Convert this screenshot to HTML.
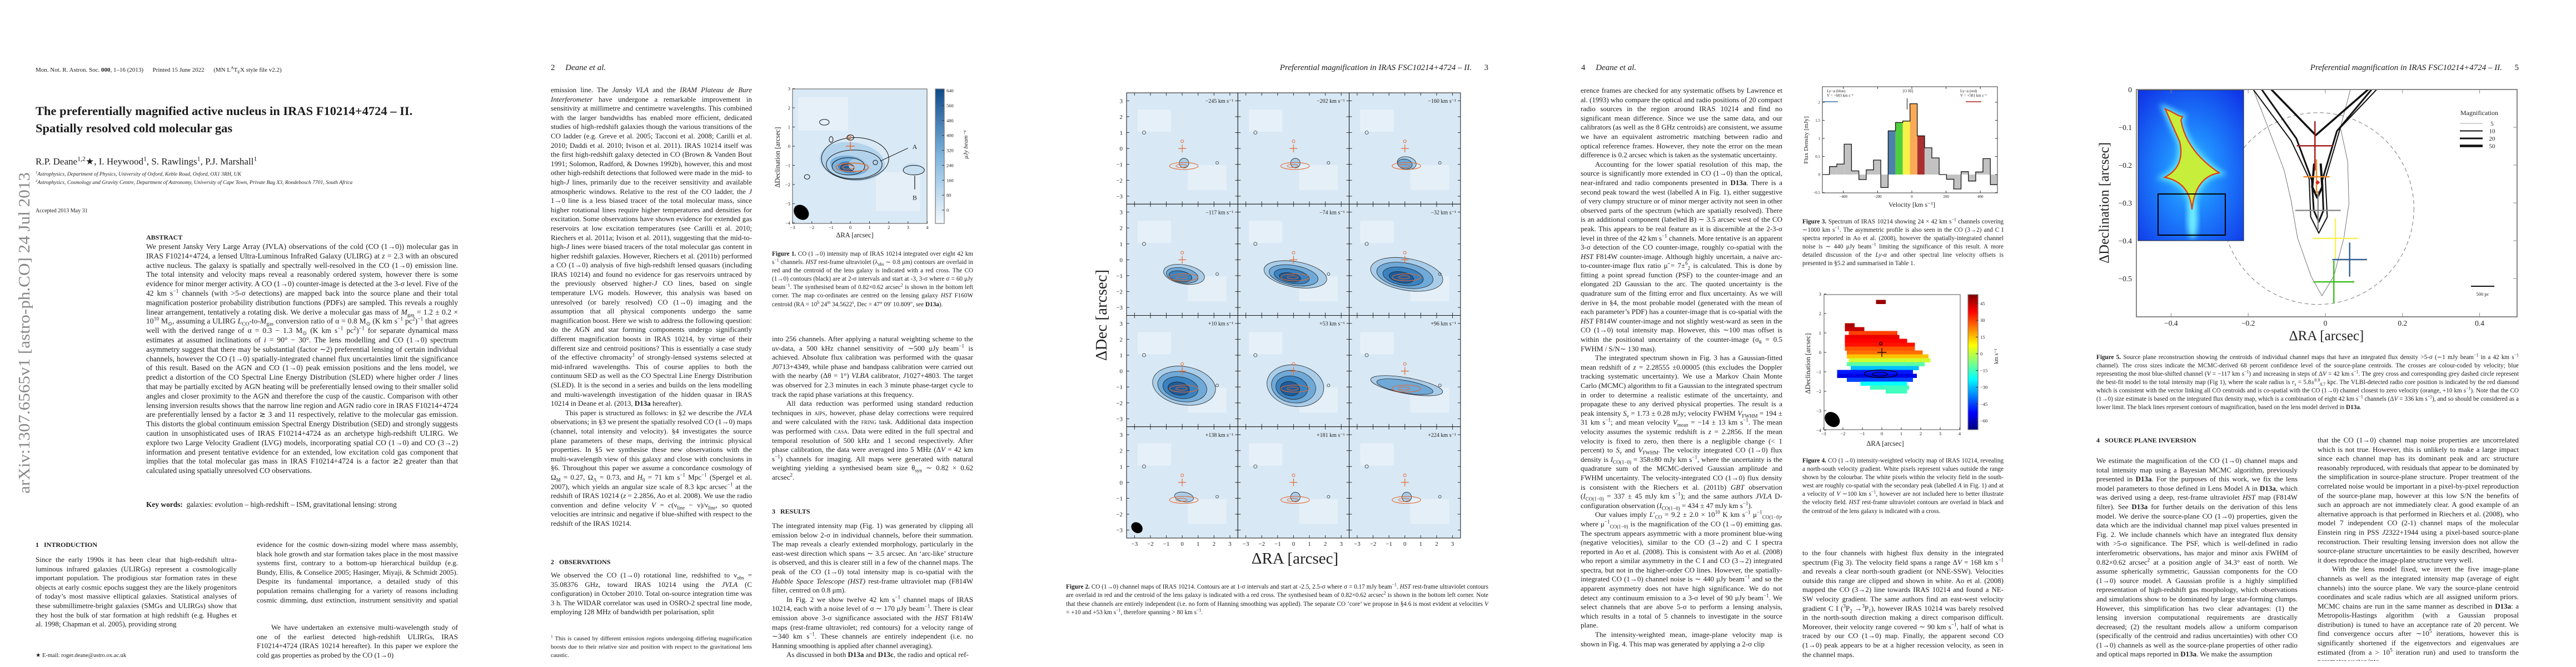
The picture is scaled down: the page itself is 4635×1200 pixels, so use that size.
<!DOCTYPE html>
<html><head><meta charset="utf-8"><title>Preferentially magnified AGN in IRAS F10214+4724 II</title>
<style>
html,body{margin:0;padding:0;background:#fff}
body{width:4635px;height:1200px;position:relative;overflow:hidden}
.pg{position:absolute;top:0;width:927px;height:1200px;overflow:hidden;background:#fff}
.t{position:absolute;font-family:"Liberation Serif",serif;font-size:13px;line-height:16.6px;text-align:justify;color:#1c1c1c;overflow:hidden}
.t p{margin:0}
.ind{text-indent:2em}
.cap{font-size:11.2px;line-height:15.1px}
.h{font-weight:bold}
sup,sub{line-height:0;font-size:70%}
svg{position:absolute;left:0;top:0;overflow:visible}
svg text{font-family:"Liberation Serif",serif}
</style></head>
<body>
<!-- PAGE 1 -->
<div class="pg" style="left:0">
<div class="t" style="left:64px;top:118px;width:600px;font-size:11px;text-align:left;white-space:pre">Mon. Not. R. Astron. Soc. <b>000</b>, 1–16 (2013)      Printed 15 June 2022      (MN L<sup>A</sup>T<sub>E</sub>X style file v2.2)</div>
<div class="t h" style="left:64px;top:184px;width:800px;font-size:22.5px;line-height:31px;text-align:left">The preferentially magnified active nucleus in IRAS F10214+4724 – II.<br>Spatially resolved cold molecular gas</div>
<div class="t" style="left:64px;top:280px;width:700px;font-size:17px;line-height:22px;text-align:left">R.P. Deane<sup>1,2</sup>★, I. Heywood<sup>1</sup>, S. Rawlings<sup>1</sup>, P.J. Marshall<sup>1</sup></div>
<div class="t" style="left:64px;top:306px;width:780px;font-size:9.6px;line-height:15px;text-align:left;font-style:italic"><sup>1</sup>Astrophysics, Department of Physics, University of Oxford, Keble Road, Oxford, OX1 3RH, UK<br><sup>2</sup>Astrophysics, Cosmology and Gravity Centre, Department of Astronomy, University of Cape Town, Private Bag X3, Rondebosch 7701, South Africa</div>
<div class="t" style="left:64px;top:372px;width:300px;font-size:10px;text-align:left">Accepted 2013 May 31</div>
<div class="t h" style="left:263px;top:419px;width:200px;font-size:12px">ABSTRACT</div>
<div class="t" style="left:263px;top:436px;width:561px;height:452px;font-size:13.6px;line-height:16.8px">We present Jansky Very Large Array (JVLA) observations of the cold (CO (1→0)) molecular gas in IRAS F10214+4724, a lensed Ultra-Luminous InfraRed Galaxy (ULIRG) at <i>z</i> = 2.3 with an obscured active nucleus. The galaxy is spatially and spectrally well-resolved in the CO (1→0) emission line. The total intensity and velocity maps reveal a reasonably ordered system, however there is some evidence for minor merger activity. A CO (1→0) counter-image is detected at the 3-σ level. Five of the 42 km s<sup>−1</sup> channels (with &gt;5-σ detections) are mapped back into the source plane and their total magnification posterior probability distribution functions (PDFs) are sampled. This reveals a roughly linear arrangement, tentatively a rotating disk. We derive a molecular gas mass of <i>M</i><sub>gas</sub> = 1.2 ± 0.2 × 10<sup>10</sup> M<sub>⊙</sub>, assuming a ULIRG <i>L</i><sub>CO</sub>-to-<i>M</i><sub>gas</sub> conversion ratio of α = 0.8 M<sub>⊙</sub> (K km s<sup>−1</sup> pc<sup>2</sup>)<sup>−1</sup> that agrees well with the derived range of α = 0.3 − 1.3 M<sub>⊙</sub> (K km s<sup>−1</sup> pc<sup>2</sup>)<sup>−1</sup> for separate dynamical mass estimates at assumed inclinations of <i>i</i> = 90° − 30°. The lens modelling and CO (1→0) spectrum asymmetry suggest that there may be substantial (factor ∼2) preferential lensing of certain individual channels, however the CO (1→0) spatially-integrated channel flux uncertainties limit the significance of this result. Based on the AGN and CO (1→0) peak emission positions and the lens model, we predict a distortion of the CO Spectral Line Energy Distribution (SLED) where higher order <i>J</i> lines that may be partially excited by AGN heating will be preferentially lensed owing to their smaller solid angles and closer proximity to the AGN and therefore the cusp of the caustic. Comparison with other lensing inversion results shows that the narrow line region and AGN radio core in IRAS F10214+4724 are preferentially lensed by a factor ≳ 3 and 11 respectively, relative to the molecular gas emission. This distorts the global continuum emission Spectral Energy Distribution (SED) and strongly suggests caution in unsophisticated uses of IRAS F10214+4724 as an archetype high-redshift ULIRG. We explore two Large Velocity Gradient (LVG) models, incorporating spatial CO (1→0) and CO (3→2) information and present tentative evidence for an extended, low excitation cold gas component that implies that the total molecular gas mass in IRAS F10214+4724 is a factor ≳2 greater than that calculated using spatially unresolved CO observations.</div>
<div class="t" style="left:263px;top:900px;width:561px;font-size:13.4px;text-align:left"><b>Key words:</b>&nbsp; galaxies: evolution – high-redshift – ISM, gravitational lensing: strong</div>
<div class="t h" style="left:64px;top:972px;width:300px;font-size:12px">1&nbsp;&nbsp;&nbsp;INTRODUCTION</div>
<div class="t" style="left:64px;top:999px;width:362px;height:134px">Since the early 1990s it has been clear that high-redshift ultra-luminous infrared galaxies (ULIRGs) represent a cosmologically important population. The prodigious star formation rates in these objects at early cosmic epochs suggest they are the likely progenitors of today’s most massive elliptical galaxies. Statistical analyses of these submillimetre-bright galaxies (SMGs and ULIRGs) show that they host the bulk of star formation at high redshift (e.g. Hughes et al. 1998; Chapman et al. 2005), providing strong</div>
<div class="t" style="left:462px;top:972px;width:362px;height:118px">evidence for the cosmic down-sizing model where mass assembly, black hole growth and star formation takes place in the most massive systems first, contrary to a bottom-up hierarchical buildup (e.g. Bundy, Ellis, &amp; Conselice 2005; Hasinger, Miyaji, &amp; Schmidt 2005). Despite its fundamental importance, a detailed study of this population remains challenging for a variety of reasons including cosmic dimming, dust extinction, instrument sensitivity and spatial resolution.</div>
<div class="t" style="left:462px;top:1121px;width:362px;height:68px"><p class="ind">We have undertaken an extensive multi-wavelength study of one of the earliest detected high-redshift ULIRGs, IRAS F10214+4724 (IRAS 10214 hereafter). In this paper we explore the cold gas properties as probed by the CO (1→0)</p></div>
<div class="t" style="left:64px;top:1172px;width:362px;font-size:10.5px">★ E-mail: roger.deane@astro.ox.ac.uk</div>
<svg width="927" height="1200"><text x="0" y="0" transform="translate(53,888) rotate(-90)" font-size="29" fill="#888" textLength="578" lengthAdjust="spacingAndGlyphs">arXiv:1307.6565v1  [astro-ph.CO]  24 Jul 2013</text></svg>
</div>

<!-- PAGE 2 -->
<div class="pg" style="left:927px">
<div class="t" style="left:64px;top:112px;width:300px;font-size:15px;line-height:20px;text-align:left">2&nbsp;&nbsp;&nbsp;&nbsp;&nbsp;<i>Deane et al.</i></div>
<div class="t" style="left:64px;top:154px;width:362px;height:814px">emission line. The <i>Jansky VLA</i> and the <i>IRAM Plateau de Bure Interferometer</i> have undergone a remarkable improvement in sensitivity at millimetre and centimetre wavelengths. This combined with the larger bandwidths has enabled more efficient, dedicated studies of high-redshift galaxies though the various transitions of the CO ladder (e.g. Greve et al. 2005; Tacconi et al. 2008; Carilli et al. 2010; Daddi et al. 2010; Ivison et al. 2011). IRAS 10214 itself was the first high-redshift galaxy detected in CO (Brown &amp; Vanden Bout 1991; Solomon, Radford, &amp; Downes 1992b), however, this and most other high-redshift detections that followed were made in the mid- to high-<i>J</i> lines, primarily due to the receiver sensitivity and available atmospheric windows. Relative to the rest of the CO ladder, the <i>J</i> 1→0 line is a less biased tracer of the total molecular mass, since higher rotational lines require higher temperatures and densities for excitation. Some observations have shown evidence for extended gas reservoirs at low excitation temperatures (see Carilli et al. 2010; Riechers et al. 2011a; Ivison et al. 2011), suggesting that the mid-to-high-<i>J</i> lines were biased tracers of the total molecular gas content in higher redshift galaxies. However, Riechers et al. (2011b) performed a CO (1→0) analysis of five high-redshift lensed quasars (including IRAS 10214) and found no evidence for gas reservoirs untraced by the previously observed higher-<i>J</i> CO lines, based on single temperature LVG models. However, this analysis was based on unresolved (or barely resolved) CO (1→0) imaging and the assumption that all physical components undergo the same magnification boost. Here we wish to address the following question: do the AGN and star forming components undergo significantly different magnification boosts in IRAS 10214, by virtue of their different size and centroid positions? This is essentially a case study of the effective chromacity<sup>1</sup> of strongly-lensed systems selected at mid-infrared wavelengths. This of course applies to both the continuum SED as well as the CO Spectral Line Energy Distribution (SLED). It is the second in a series and builds on the lens modelling and multi-wavelength investigation of the hidden quasar in IRAS 10214 in Deane et al. (2013, <b>D13a</b> hereafter).
<p class="ind">This paper is structured as follows: in §2 we describe the <i>JVLA</i> observations; in §3 we present the spatially resolved CO (1→0) maps (channel, total intensity and velocity). §4 investigates the source plane parameters of these maps, deriving the intrinsic physical properties. In §5 we synthesise these new observations with the multi-wavelength view of this galaxy and close with conclusions in §6. Throughout this paper we assume a concordance cosmology of Ω<sub>M</sub> = 0.27, Ω<sub>Λ</sub> = 0.73, and <i>H</i><sub>0</sub> = 71 km s<sup>−1</sup> Mpc<sup>−1</sup> (Spergel et al. 2007), which yields an angular size scale of 8.3 kpc arcsec<sup>−1</sup> at the redshift of IRAS 10214 (<i>z</i> = 2.2856, Ao et al. 2008). We use the radio convention and define velocity <i>V</i> = <i>c</i>(ν<sub>line</sub> − ν)/ν<sub>line</sub>, so quoted velocities are intrinsic and negative if blue-shifted with respect to the redshift of the IRAS 10214.</p></div>
<div class="t h" style="left:64px;top:1003px;width:300px;font-size:12px">2&nbsp;&nbsp;&nbsp;OBSERVATIONS</div>
<div class="t" style="left:64px;top:1027px;width:362px;height:84px">We observed the CO (1→0) rotational line, redshifted to ν<sub>obs</sub> = 35.08376 GHz, toward IRAS 10214 using the <i>JVLA</i> (C configuration) in October 2010. Total on-source integration time was 3 h. The WIDAR correlator was used in OSRO-2 spectral line mode, employing 128 MHz of bandwidth per polarisation, split</div>
<div class="t cap" style="left:64px;top:1142px;width:362px;height:48px;font-size:10.8px"><sup>1</sup> This is caused by different emission regions undergoing differing magnification boosts due to their relative size and position with respect to the gravitational lens caustic.</div>
<div class="t cap" style="left:462px;top:450px;width:362px;height:122px"><b>Figure 1.</b> CO (1→0) intensity map of IRAS 10214 integrated over eight 42 km s<sup>−1</sup> channels. <i>HST</i> rest-frame ultraviolet (λ<sub>obs</sub> ∼ 0.8 μm) contours are overlaid in red and the centroid of the lens galaxy is indicated with a red cross. The CO (1→0) contours (black) are at 2-σ intervals and start at -3, 3-σ where σ = 60 μJy beam<sup>−1</sup>. The synthesised beam of 0.82×0.62 arcsec<sup>2</sup> is shown in the bottom left corner. The map co-ordinates are centred on the lensing galaxy <i>HST</i> F160W centroid (RA = 10<sup>h</sup> 24<sup>m</sup> 34.5622<sup>s</sup>, Dec = 47° 09′ 10.809″, see <b>D13a</b>).</div>
<div class="t" style="left:462px;top:602px;width:362px;height:268px">into 256 channels. After applying a natural weighting scheme to the <i>uv</i>-data, a 500 kHz channel sensitivity of ∼500 μJy beam<sup>−1</sup> is achieved. Absolute flux calibration was performed with the quasar <i>J</i>0713+4349, while phase and bandpass calibration were carried out with the nearby (Δθ = 1°) <i>VLBA</i> calibrator, <i>J</i>1027+4803. The target was observed for 2.3 minutes in each 3 minute phase-target cycle to track the rapid phase variations at this frequency.
<p class="ind">All data reduction was performed using standard reduction techniques in <span style="font-variant:small-caps">aips</span>, however, phase delay corrections were required and were calculated with the <span style="font-variant:small-caps">fring</span> task. Additional data inspection was performed with <span style="font-variant:small-caps">casa</span>. Data were edited in the full spectral and temporal resolution of 500 kHz and 1 second respectively. After phase calibration, the data were averaged into 5 MHz (Δ<i>V</i> = 42 km s<sup>−1</sup>) channels for imaging. All maps were generated with natural weighting yielding a synthesised beam size θ<sub>syn</sub> ∼ 0.82 × 0.62 arcsec<sup>2</sup>.</p></div>
<div class="t h" style="left:462px;top:912px;width:300px;font-size:12px">3&nbsp;&nbsp;&nbsp;RESULTS</div>
<div class="t" style="left:462px;top:938px;width:362px;height:252px">The integrated intensity map (Fig. 1) was generated by clipping all emission below 2-σ in individual channels, before their summation. The map reveals a clearly extended morphology, particularly in the east-west direction which spans ∼ 3.5 arcsec. An ‘arc-like’ structure is observed, and this is clearer still in a few of the channel maps. The peak of the CO (1→0) total intensity map is co-spatial with the <i>Hubble Space Telescope (HST)</i> rest-frame ultraviolet map (F814W filter, centred on 0.8 μm).
<p class="ind">In Fig. 2 we show twelve 42 km s<sup>−1</sup> channel maps of IRAS 10214, each with a noise level of σ ∼ 170 μJy beam<sup>−1</sup>. There is clear emission above 3-σ significance associated with the <i>HST</i> F814W maps (rest-frame ultraviolet; red contours) for a velocity range of ∼340 km s<sup>−1</sup>. These channels are entirely independent (i.e. no Hanning smoothing is applied after channel averaging).</p>
<p class="ind">As discussed in both <b>D13a</b> and <b>D13c</b>, the radio and optical ref-</p></div>
<svg id="fig1" width="927" height="1200"></svg>
</div>

<!-- PAGE 3 -->
<div class="pg" style="left:1854px">
<div class="t" style="left:360px;top:112px;width:464px;font-size:15px;line-height:20px;text-align:right"><i>Preferential magnification in IRAS FSC10214+4724 – II.</i>&nbsp;&nbsp;&nbsp;&nbsp;&nbsp;&nbsp;3</div>
<svg id="fig2" width="927" height="1200"></svg>
<div class="t cap" style="left:64px;top:1049px;width:760px;height:62px;line-height:15.3px"><b>Figure 2.</b> CO (1→0) channel maps of IRAS 10214. Contours are at 1-σ intervals and start at -2.5, 2.5-σ where σ = 0.17 mJy beam<sup>−1</sup>. <i>HST</i> rest-frame ultraviolet contours are overlaid in red and the centroid of the lens galaxy is indicated with a red cross. The synthesised beam of 0.82×0.62 arcsec<sup>2</sup> is shown in the bottom left corner. Note that these channels are entirely independent (i.e. no form of Hanning smoothing was applied). The separate CO ‘core’ we propose in §4.6 is most evident at velocities <i>V</i> = +10 and +53 km s<sup>−1</sup>, therefore spanning &gt; 80 km s<sup>−1</sup>.</div>
</div>

<!-- PAGE 4 -->
<div class="pg" style="left:2781px">
<div class="t" style="left:64px;top:112px;width:300px;font-size:15px;line-height:20px;text-align:left">4&nbsp;&nbsp;&nbsp;&nbsp;&nbsp;<i>Deane et al.</i></div>
<div class="t" style="left:63px;top:155px;width:363px;height:1032px">erence frames are checked for any systematic offsets by Lawrence et al. (1993) who compare the optical and radio positions of 20 compact radio sources in the region around IRAS 10214 and find no significant mean difference. Since we use the same data, and our calibrators (as well as the 8 GHz centroids) are consistent, we assume we have an equivalent astrometric matching between radio and optical reference frames. However, they note the error on the mean difference is 0.2 arcsec which is taken as the systematic uncertainty.
<p class="ind">Accounting for the lower spatial resolution of this map, the source is significantly more extended in CO (1→0) than the optical, near-infrared and radio components presented in <b>D13a</b>. There is a second peak toward the west (labelled A in Fig. 1), either suggestive of very clumpy structure or of minor merger activity not seen in other observed parts of the spectrum (which are spatially resolved). There is an additional component (labelled B) ∼ 3.5 arcsec west of the CO peak. This appears to be real feature as it is discernible at the 2-3-σ level in three of the 42 km s<sup>−1</sup> channels. More tentative is an apparent 3-σ detection of the CO counter-image, roughly co-spatial with the <i>HST</i> F814W counter-image. Although highly uncertain, a naive arc-to-counter-image flux ratio μ̃ = 7±<sup>6</sup><sub>2</sub> is calculated. This is done by fitting a point spread function (PSF) to the counter-image and an elongated 2D Gaussian to the arc. The quoted uncertainty is the quadrature sum of the fitting error and flux uncertainty. As we will derive in §4, the most probable model (generated with the mean of each parameter’s PDF) has a counter-image that is co-spatial with the <i>HST</i> F814W counter-image and not slightly west-ward as seen in the CO (1→0) total intensity map. However, this ∼100 mas offset is within the positional uncertainty of the counter-image (σ<sub>θ</sub> = 0.5 FWHM / S/N∼ 130 mas).</p>
<p class="ind">The integrated spectrum shown in Fig. 3 has a Gaussian-fitted mean redshift of <i>z</i> = 2.28555 ±0.00005 (this excludes the Doppler tracking systematic uncertainty). We use a Markov Chain Monte Carlo (MCMC) algorithm to fit a Gaussian to the integrated spectrum in order to determine a realistic estimate of the uncertainty, and propagate these to any derived physical properties. The result is a peak intensity <i>S</i><sub>ν</sub> = 1.73 ± 0.28 mJy; velocity FWHM <i>V</i><sub>FWHM</sub> = 194 ± 31 km s<sup>−1</sup>; and mean velocity <i>V</i><sub>mean</sub> = −14 ± 13 km s<sup>−1</sup>. The mean velocity assumes the systemic redshift is <i>z</i> = 2.2856. If the mean velocity is fixed to zero, then there is a negligible change (&lt; 1 percent) to <i>S</i><sub>ν</sub> and <i>V</i><sub>FWHM</sub>. The velocity integrated CO (1→0) flux density is <i>I</i><sub>CO(1−0)</sub> = 358±80 mJy km s<sup>−1</sup>, where the uncertainty is the quadrature sum of the MCMC-derived Gaussian amplitude and FWHM uncertainty. The velocity-integrated CO (1→0) flux density is consistent with the Riechers et al. (2011b) <i>GBT</i> observation (<i>I</i><sub>CO(1−0)</sub> = 337 ± 45 mJy km s<sup>−1</sup>); and the same authors <i>JVLA</i> D-configuration observation (<i>I</i><sub>CO(1−0)</sub> = 434 ± 47 mJy km s<sup>−1</sup>).</p>
<p class="ind">Our values imply <i>L</i>′<sub>CO</sub> = 9.2 ± 2.0 × 10<sup>10</sup> K km s<sup>−1</sup> μ<sup>−1</sup><sub>CO(1−0)</sub>, where μ<sup>−1</sup><sub>CO(1−0)</sub> is the magnification of the CO (1→0) emitting gas. The spectrum appears asymmetric with a more prominent blue-wing (negative velocities), similar to the CO (3→2) and C I spectra reported in Ao et al. (2008). This is consistent with Ao et al. (2008) who report a similar asymmetry in the C I and CO (3→2) integrated spectra, but not in the higher-order CO lines. However, the spatially-integrated CO (1→0) channel noise is ∼ 440 μJy beam<sup>−1</sup> and so the apparent asymmetry does not have high significance. We do not detect any continuum emission to a 3-σ level of 90 μJy beam<sup>−1</sup>. We select channels that are above 5-σ to perform a lensing analysis, which results in a total of 5 channels to investigate in the source plane.</p>
<p class="ind">The intensity-weighted mean, image-plane velocity map is shown in Fig. 4. This map was generated by applying a 2-σ clip</p></div>
<div class="t cap" style="left:462px;top:392px;width:362px;height:92px"><b>Figure 3.</b> Spectrum of IRAS 10214 showing 24 × 42 km s<sup>−1</sup> channels covering ∼1000 km s<sup>−1</sup>. The asymmetric profile is also seen in the CO (3→2) and C I spectra reported in Ao et al. (2008), however the spatially-integrated channel noise is ∼ 440 μJy beam<sup>−1</sup> limiting the significance of this result. A more detailed discussion of the <i>Ly-α</i> and other spectral line velocity offsets is presented in §5.2 and summarised in Table 1.</div>
<div class="t cap" style="left:462px;top:822px;width:362px;height:122px"><b>Figure 4.</b> CO (1→0) intensity-weighted velocity map of IRAS 10214, revealing a north-south velocity gradient. White pixels represent values outside the range shown by the colourbar. The white pixels within the velocity field in the south-west are roughly co-spatial with the secondary peak (labelled <i>A</i> in Fig. 1) and at a velocity of <i>V</i> ∼100 km s<sup>−1</sup>, however are not included here to better illustrate the velocity field. <i>HST</i> rest-frame ultraviolet contours are overlaid in black and the centroid of the lens galaxy is indicated with a cross.</div>
<div class="t" style="left:462px;top:987px;width:362px;height:202px">to the four channels with highest flux density in the integrated spectrum (Fig 3). The velocity field spans a range Δ<i>V</i> = 168 km s<sup>−1</sup> and reveals a clear north-south gradient (or NNE-SSW). Velocities outside this range are clipped and shown in white. Ao et al. (2008) mapped the CO (3→2) line towards IRAS 10214 and found a NE-SW velocity gradient. The same authors find an east-west velocity gradient C I (<sup>3</sup>P<sub>2</sub> →<sup>3</sup>P<sub>1</sub>), however IRAS 10214 was barely resolved in the north-south direction making a direct comparison difficult. Moreover, their velocity range covered ∼ 90 km s<sup>−1</sup>, half of what is traced by our CO (1→0) map. Finally, the apparent second CO (1→0) peak appears to be at a higher recession velocity, as seen in the channel maps.</div>
<svg id="fig3" width="927" height="1200"></svg>
<svg id="fig4" width="927" height="1200"></svg>
</div>

<!-- PAGE 5 -->
<div class="pg" style="left:3708px">
<div class="t" style="left:360px;top:112px;width:464px;font-size:15px;line-height:20px;text-align:right"><i>Preferential magnification in IRAS FSC10214+4724 – II.</i>&nbsp;&nbsp;&nbsp;&nbsp;&nbsp;&nbsp;5</div>
<svg id="fig5" width="927" height="1200"></svg>
<div class="t cap" style="left:64px;top:636px;width:760px;height:122px;line-height:15px"><b>Figure 5.</b> Source plane reconstruction showing the centroids of individual channel maps that have an integrated flux density &gt;5-σ (∼1 mJy beam<sup>−1</sup> in a 42 km s<sup>−1</sup> channel). The cross sizes indicate the MCMC-derived 68 percent confidence level of the source-plane centroids. The crosses are colour-coded by velocity; blue representing the most blue-shifted channel (<i>V</i> = −117 km s<sup>−1</sup>) and increasing in steps of Δ<i>V</i> = 42 km s<sup>−1</sup>. The grey cross and corresponding grey dashed circle represent the best-fit model to the total intensity map (Fig 1), where the scale radius is <i>r</i><sub>s</sub> = 5.8±<sup>0.9</sup><sub>0.7</sub> kpc. The VLBI-detected radio core position is indicated by the red diamond which is consistent with the vector linking all CO centroids and is co-spatial with the CO (1→0) channel closest to zero velocity (orange, +10 km s<sup>−1</sup>). Note that the CO (1→0) size estimate is based on the integrated flux density map, which is a combination of eight 42 km s<sup>−1</sup> channels (Δ<i>V</i> = 336 km s<sup>−1</sup>), and so should be considered as a lower limit. The black lines represent contours of magnification, based on the lens model derived in <b>D13a</b>.</div>
<div class="t h" style="left:64px;top:784px;width:360px;font-size:12px">4&nbsp;&nbsp;&nbsp;SOURCE PLANE INVERSION</div>
<div class="t" style="left:64px;top:821px;width:362px;height:368px">We estimate the magnification of the CO (1→0) channel maps and total intensity map using a Bayesian MCMC algorithm, previously presented in <b>D13a</b>. For the purposes of this work, we fix the lens model parameters to those defined in Lens Model A in <b>D13a</b>, which was derived using a deep, rest-frame ultraviolet <i>HST</i> map (F814W filter). See <b>D13a</b> for further details on the derivation of this lens model. We derive the source-plane CO (1→0) properties, given the data which are the individual channel map pixel values presented in Fig. 2. We include channels which have an integrated flux density with &gt;5-σ significance. The PSF, which is well-defined in radio interferometric observations, has major and minor axis FWHM of 0.82×0.62 arcsec<sup>2</sup> at a position angle of 34.3° east of north. We assume spherically symmetric, Gaussian components for the CO (1→0) source model. A Gaussian profile is a highly simplified representation of high-redshift gas morphology, which observations and simulations show to be dominated by large star-forming clumps. However, this simplification has two clear advantages: (1) the lensing inversion computational requirements are drastically decreased; (2) the resultant models allow a uniform comparison (specifically of the centroid and radius uncertainties) with other CO (1→0) channels as well as the source-plane properties of other radio and optical maps reported in <b>D13a</b>. We make the assumption</div>
<div class="t" style="left:462px;top:784px;width:362px;height:405px">that the CO (1→0) channel map noise properties are uncorrelated which is not true. However, this is unlikely to make a large impact since each channel map has its dominant peak and arc structure reasonably reproduced, with residuals that appear to be dominated by the simplification in source-plane structure. Proper treatment of the correlated noise would be important in a pixel-by-pixel reproduction of the source-plane map, however at this low S/N the benefits of such an approach are not immediately clear. A good example of an alternative approach is that performed in Riechers et al. (2008), who model 7 independent CO (2-1) channel maps of the molecular Einstein ring in PSS <i>J</i>2322+1944 using a pixel-based source-plane reconstruction. Their resulting lensing inversion does not allow the source-plane structure uncertainties to be easily described, however it does reproduce the image-plane structure very well.
<p class="ind">With the lens model fixed, we invert the five image-plane channels as well as the integrated intensity map (average of eight channels) into the source plane. We vary the source-plane centroid coordinates and scale radius which are all assigned uniform priors. MCMC chains are run in the same manner as described in <b>D13a</b>: a Metropolis-Hastings algorithm (with a Gaussian proposal distribution) is tuned to have an acceptance rate of 20 percent. We find convergence occurs after ∼10<sup>5</sup> iterations, however this is significantly shortened if the eigenvectors and eigenvalues are estimated (from a &gt; 10<sup>5</sup> iteration run) and used to transform the parameter vector into</p></div>
</div>

<script>
const NS='http://www.w3.org/2000/svg';
function mk(parent, tag, attrs){const e=document.createElementNS(NS,tag);for(const k in attrs)e.setAttribute(k,attrs[k]);parent.appendChild(e);return e;}
function txt(parent,x,y,s,size,anchor,extra){const e=mk(parent,'text',Object.assign({x:x,y:y,'font-size':size,'text-anchor':anchor||'start',fill:'#222'},extra||{}));e.textContent=s;return e;}

/* ================= FIGURE 3 DATA ================= */
const specVelocity=[-503,-460,-417,-374,-331,-288,-245,-203,-160,-117,-74,-32,10,53,96,138,181,224,266,309,352,394,437,480];
const specFlux=[0.0,0.22,0.29,0.84,0.10,-0.14,0.13,0.40,-0.36,1.21,1.44,1.48,1.96,1.07,0.74,0.46,0.0,-0.13,-0.40,0.08,-0.18,0.07,0.44,-0.28];
const specColors=['#c2c2c2','#c2c2c2','#c2c2c2','#c2c2c2','#c2c2c2','#c2c2c2','#c2c2c2','#c2c2c2','#c2c2c2','#4f7fab','#4fcf3c','#f7f24a','#f9aa56','#a9302e','#c2c2c2','#c2c2c2','#c2c2c2','#c2c2c2','#c2c2c2','#c2c2c2','#c2c2c2','#c2c2c2','#c2c2c2','#c2c2c2'];
const specXTicks=[-400,-200,0,200,400];
const specYTicks=[-0.5,0.0,0.5,1.0,1.5,2.0];
const specChanWidth=42.6;

/* ================= FIGURE 1 DATA ================= */
const f1EmisRA=[0.1,-0.05,-0.1,-0.15,3.3,0.4];
const f1EmisDec=[-0.8,-1.0,-1.1,-1.15,-1.2,-1.0];
const f1EmisRx=[1.7,1.0,0.55,0.3,0.55,0.5];
const f1EmisRy=[1.0,0.5,0.3,0.18,0.3,0.35];
const f1EmisFill=['#b3d3ec','#7ab3de','#3f86c4','#1f5e9e','#c6dff1','#a6cbe8'];
const f1ContRA=[0.25,0.2,-0.1,-0.15,3.3,-1.35,1.3,-2.25,0.0,-1.0];
const f1ContDec=[-0.65,-0.95,-1.05,-1.12,-1.25,1.25,-0.85,-1.6,0.45,0.35];
const f1ContRx=[1.75,1.45,0.85,0.35,0.55,0.25,0.12,0.14,0.18,0.1];
const f1ContRy=[1.1,0.75,0.45,0.2,0.25,0.15,0.12,0.12,0.14,0.15];
const f1CbarTicks=[640,560,480,400,320,240,160,80,0];
const f1XTicks=[-3,-2,-1,0,1,2,3,4];
const f1YTicks=[3,2,1,0,-1,-2,-3,-4];

/* ================= FIGURE 2 DATA ================= */
const chanLabels=['−245','−202','−160','−117','−74','−32','+10','+53','+96','+138','+181','+224'];
const chanPeak=[0.05,0.05,0.3,0.6,0.8,0.95,1.0,0.85,0.5,0.18,0.08,0.05];
const chanExtentRA=[0.3,0.3,0.6,1.3,2.0,2.3,2.0,1.8,2.3,0.6,0.3,0.3];
const chanExtentDec=[0.3,0.3,0.4,0.6,0.8,1.0,1.2,1.3,0.5,0.3,0.3,0.3];
const chanTicks=[-3,-2,-1,0,1,2,3];

/* ================= FIGURE 4 DATA ================= */
const velRowDec=[2.6,1.4,1.2,1.0,0.8,0.6,0.4,0.2,0.0,-0.2,-0.4,-0.6,-0.8,-1.0,-1.2,-1.4,-1.6,-1.8,-2.0];
const velRowVel=[50,48,45,30,40,38,36,28,25,15,2,-12,-30,-50,-56,-45,-22,-15,-15];
const velRowMin=[-0.3,-1.9,-1.9,-1.7,-1.9,-1.9,-1.9,-1.9,-1.8,-1.8,-1.7,-1.8,-1.6,-2.3,-2.3,-1.8,-1.1,-0.6,0.2];
const velRowMax=[0.2,-1.4,-0.9,0.8,0.9,1.3,1.7,1.7,2.1,2.4,2.5,2.2,1.9,1.6,1.8,1.6,1.3,1.4,1.3];
const velCbarTicks=[45,30,15,0,-15,-30,-45,-60];
const velMin=-68, velMax=53;

/* ================= FIGURE 5 DATA ================= */
const crossRA=[-0.027,-0.023,-0.019,0.026,0.063,0.022];
const crossDec=[-0.149,-0.231,-0.320,-0.394,-0.450,-0.509];
const crossErrRA=[0.047,0.034,0.059,0.059,0.045,0.053];
const crossErrDec=[0.065,0.046,0.051,0.053,0.045,0.056];
const crossColors=['#a01818','#f28a2a','#888888','#f4f056','#2f5f8f','#3cbf1e'];
const causticRA=[-0.187,-0.157,-0.107,-0.089,-0.072,-0.037,-0.009,0.022,0.048,0.061,0.058,0.039,0.065];
const causticDec=[0,-0.078,-0.213,-0.293,-0.393,-0.494,-0.546,-0.494,-0.393,-0.303,-0.191,-0.101,0];
const mag10RA=[-0.187,-0.089,-0.042,-0.038,-0.017,0.005,0.000,0.039,0.133];
const mag10Dec=[0,-0.135,-0.236,-0.337,-0.380,-0.337,-0.236,-0.101,0];
const mag20RA=[-0.165,-0.075,-0.035,-0.03,-0.017,-0.005,-0.008,0.03,0.12];
const mag20Dec=[0,-0.13,-0.24,-0.32,-0.35,-0.32,-0.24,-0.11,0];
const mag50RA=[-0.140,-0.025,0.111];
const mag50Dec=[0,-0.121,0];
const magLoopRA=[-0.029,-0.034,-0.021,-0.008,-0.012];
const magLoopDec=[-0.196,-0.258,-0.286,-0.258,-0.196];
const f5XTicks=[-0.4,-0.2,0.0,0.2,0.4];
const f5YTicks=[0.0,-0.1,-0.2,-0.3,-0.4,-0.5];
const legendMag=['5','10','20','50'];
const legendWidth=[0.8,2,3,4.5];
const sizeCircleRA=-0.019, sizeCircleDec=-0.315, sizeCircleR=0.25;

function fmt(v){return (v<0?'−':'')+Math.abs(v);}

/* ---------- FIGURE 3 ---------- */
(function(){
 const s=document.getElementById('fig3');
 const L=498,R=813,T=156,B=347;
 const xv=v=>659+v*0.308, yf=f=>314-f*65;
 mk(s,'rect',{x:L,y:T,width:R-L,height:B-T,fill:'#fff'});
 const g=mk(s,'g',{});
 
 
 let d='';
 for(let i=0;i<specVelocity.length;i++){
  const x0=Math.max(L,xv(specVelocity[i]-specChanWidth/2)), x1=Math.min(R,xv(specVelocity[i]+specChanWidth/2));
  const y=yf(specFlux[i]), y0=yf(0);
  const r=mk(g,'rect',{x:x0,y:Math.min(y,y0),width:x1-x0,height:Math.max(0.5,Math.abs(y0-y)),fill:specColors[i]});
  
  
  d+=(i===0?'M':'L')+x0+','+y+' L'+x1+','+y+' ';
 }
 const st=mk(s,'path',{d:d,fill:'none',stroke:'#111','stroke-width':1.3});
 
 
 mk(s,'rect',{x:L,y:T,width:R-L,height:B-T,fill:'none',stroke:'#333','stroke-width':1});
 specXTicks.forEach(v=>{const x=xv(v);mk(s,'line',{x1:x,x2:x,y1:B,y2:B-4,stroke:'#333'});mk(s,'line',{x1:x,x2:x,y1:T,y2:T+4,stroke:'#333'});
  const t=txt(s,x,B+9,fmt(v),7,'middle');});
 specYTicks.forEach(v=>{const y=yf(v);mk(s,'line',{x1:L,x2:L+4,y1:y,y2:y,stroke:'#333'});mk(s,'line',{x1:R,x2:R-4,y1:y,y2:y,stroke:'#333'});
  const t=txt(s,L-4,y+2.5,fmt(v.toFixed(1)).replace('−0.0','0.0'),7,'end');});
 const xt=txt(s,659,372,'Velocity  [km s⁻¹]',12,'middle');
 
 
 const yt=txt(s,0,0,'Flux Density  [mJy]',11,'middle',{transform:'translate(472,252) rotate(-90)'});
 
 
 txt(s,506,166,'Ly−α (blue)',7);txt(s,506,174,'V = −603 km s⁻¹',7);
 mk(s,'line',{x1:526,x2:499,y1:183,y2:183,stroke:'#3a6fa8','stroke-width':1.5});
 txt(s,652,166,'[O  III]',7,'middle');
 mk(s,'line',{x1:650.5,x2:650.5,y1:177,y2:197,stroke:'#333','stroke-width':1.2});
 txt(s,746,166,'Ly−α (red)',7);txt(s,746,174,'V = +581 km s⁻¹',7);
 mk(s,'line',{x1:756,x2:784,y1:183,y2:183,stroke:'#a82020','stroke-width':1.5});
})();

/* ---------- FIGURE 1 ---------- */
(function(){
 const s=document.getElementById('fig1');
 const L=499,R=741,T=160,B=402;
 const X=ra=>603+ra*34.6, Y=dec=>263-dec*34.5;
 mk(s,'rect',{x:L,y:T,width:R-L,height:B-T,fill:'#d9e9f5'});
 mk(s,'rect',{x:L+10,y:T+15,width:90,height:60,fill:'#e6f0f8'});
 mk(s,'rect',{x:L+150,y:T+150,width:80,height:70,fill:'#e4eff8'});
 for(let i=0;i<f1EmisRA.length;i++){const e=mk(s,'ellipse',{cx:X(f1EmisRA[i]),cy:Y(f1EmisDec[i]),rx:f1EmisRx[i]*34.6,ry:f1EmisRy[i]*34.5,fill:f1EmisFill[i],transform:'rotate(8 '+X(f1EmisRA[i])+' '+Y(f1EmisDec[i])+')'});
  
  }
 for(let i=0;i<f1ContRA.length;i++){const e=mk(s,'ellipse',{cx:X(f1ContRA[i]),cy:Y(f1ContDec[i]),rx:f1ContRx[i]*34.6,ry:f1ContRy[i]*34.5,fill:'none',stroke:'#111','stroke-width':1});
  
  }
 mk(s,'ellipse',{cx:X(0.1),cy:Y(-1.1),rx:0.85*34.6,ry:0.22*34.5,fill:'none',stroke:'#e0703a','stroke-width':1.6});
 mk(s,'ellipse',{cx:X(-0.1),cy:Y(-1.1),rx:0.3*34.6,ry:0.1*34.5,fill:'none',stroke:'#e0703a','stroke-width':1.3});
 mk(s,'circle',{cx:X(-0.05),cy:Y(0.45),r:3,fill:'none',stroke:'#e0703a','stroke-width':1.4});
 mk(s,'path',{d:`M${X(0)-8},${Y(0)} h16 M${X(0)},${Y(0)-8} v16`,stroke:'#e0703a','stroke-width':1.6});
 mk(s,'line',{x1:X(1.55),y1:Y(-0.78),x2:X(3.0),y2:Y(-0.1),stroke:'#111','stroke-width':1});
 txt(s,X(3.35),Y(0)+5,'A',12,'middle',{'font-family':'Liberation Sans,sans-serif'});
 mk(s,'line',{x1:X(3.35),y1:Y(-1.55),x2:X(3.35),y2:Y(-2.25),stroke:'#111','stroke-width':1.2});
 txt(s,X(3.35),Y(-2.65)+5,'B',12,'middle',{'font-family':'Liberation Sans,sans-serif'});
 mk(s,'ellipse',{cx:X(-2.55),cy:Y(-3.45),rx:12,ry:15,fill:'#000',transform:`rotate(-45 ${X(-2.55)} ${Y(-3.45)})`});
 mk(s,'rect',{x:L,y:T,width:R-L,height:B-T,fill:'none',stroke:'#777','stroke-width':1.3});
 f1XTicks.forEach(v=>{mk(s,'line',{x1:X(v),x2:X(v),y1:B,y2:B-4,stroke:'#333'});const t=txt(s,X(v),B+10,fmt(v),8.5,'middle');});
 f1YTicks.forEach(v=>{mk(s,'line',{x1:L,x2:L+4,y1:Y(v),y2:Y(v),stroke:'#333'});const t=txt(s,L-4,Y(v)+3,fmt(v),8.5,'end');});
 const xt=txt(s,611,427,'ΔRA  [arcsec]',12.5,'middle');
 
 
 const yt=txt(s,0,0,'ΔDeclination  [arcsec]',12.5,'middle',{transform:'translate(476,283) rotate(-90)'});
 
 
 const defs=mk(s,'defs',{});const lg=mk(defs,'linearGradient',{id:'bluecb',x1:0,y1:1,x2:0,y2:0});
 mk(lg,'stop',{offset:0,'stop-color':'#f4f9fd'});mk(lg,'stop',{offset:0.5,'stop-color':'#7fb5dd'});mk(lg,'stop',{offset:1,'stop-color':'#0e4a8a'});
 const cb=mk(s,'rect',{x:756,y:T,width:16,height:B-T,fill:'url(#bluecb)',stroke:'#777','stroke-width':1.2});
 
 
 const cy=v=>378-v*(215/640);
 f1CbarTicks.forEach(v=>{mk(s,'line',{x1:768,x2:772,y1:cy(v),y2:cy(v),stroke:'#333'});const t=txt(s,776,cy(v)+3,String(v),8.5);});
 const cl=txt(s,0,0,'μJy beam⁻¹',11,'middle',{transform:'translate(814,260) rotate(-90)','font-style':'italic'});
 
 
})();

/* ---------- FIGURE 2 ---------- */
(function(){
 const s=document.getElementById('fig2');
 const GL=173,GT=167,PW=200.3,PH=200.25,SC=28.6;
 for(let i=0;i<12;i++){
  const c=i%3,r=Math.floor(i/3);const x0=GL+c*PW,y0=GT+r*PH;const cx=x0+PW/2,cy=y0+PH/2;
  const X=ra=>cx+ra*SC, Y=dec=>cy-dec*SC;
  const g=mk(s,'g',{});
  
  
  mk(g,'rect',{x:x0,y:y0,width:PW,height:PH,fill:'#d8e8f4'});
  mk(g,'rect',{x:x0+20,y:y0+30,width:60,height:40,fill:'#e6f0f9'});
  mk(g,'rect',{x:x0+110,y:y0+130,width:70,height:45,fill:'#e4eff8'});
  const p=chanPeak[i], ex=chanExtentRA[i], ey=chanExtentDec[i];
  const shades=['#a9cde9','#6fa9d8','#3a82c0','#1d5c9c'];
  for(let k=0;k<4;k++){const f=p-k*0.25;if(f<=0.02)break;
   mk(g,'ellipse',{cx:X(0.1-0.1*k),cy:Y(-0.9-0.08*k),rx:ex*SC*(1-k*0.22),ry:ey*SC*(1-k*0.22),fill:shades[k],stroke:'#222','stroke-width':0.8,transform:`rotate(10 ${X(0)} ${Y(-1)})`});}
  mk(g,'ellipse',{cx:X(0.1),cy:Y(-1.1),rx:0.9*SC,ry:0.22*SC,fill:'none',stroke:'#e36b34','stroke-width':1.1});
  mk(g,'ellipse',{cx:X(-0.05),cy:Y(-1.1),rx:0.35*SC,ry:0.1*SC,fill:'none',stroke:'#e36b34','stroke-width':1});
  mk(g,'circle',{cx:X(0),cy:Y(0.45),r:2.5,fill:'none',stroke:'#e36b34','stroke-width':1});
  mk(g,'path',{d:`M${X(0)-7},${Y(0)} h14 M${X(0)},${Y(0)-7} v14`,stroke:'#e36b34','stroke-width':1.2});
  mk(g,'circle',{cx:X(-2.4),cy:Y(1.0),r:3,fill:'none',stroke:'#333','stroke-width':0.8});
  mk(g,'circle',{cx:X(2.2),cy:Y(-0.9),r:2.5,fill:'none',stroke:'#333','stroke-width':0.8});
  chanTicks.forEach(v=>{mk(g,'line',{x1:X(v),x2:X(v),y1:y0,y2:y0+5,stroke:'#333'});mk(g,'line',{x1:X(v),x2:X(v),y1:y0+PH,y2:y0+PH-5,stroke:'#333'});
   mk(g,'line',{x1:x0,x2:x0+5,y1:Y(v),y2:Y(v),stroke:'#333'});mk(g,'line',{x1:x0+PW,x2:x0+PW-5,y1:Y(v),y2:Y(v),stroke:'#333'});});
  const lb=txt(g,x0+PW-8,y0+18,chanLabels[i]+'  km s⁻¹',10,'end');
  
  
  mk(g,'rect',{x:x0,y:y0,width:PW,height:PH,fill:'none',stroke:'#111','stroke-width':1});
  if(i===9){mk(g,'ellipse',{cx:X(-2.85),cy:Y(-2.85),rx:9,ry:11,fill:'#000',transform:`rotate(-50 ${X(-2.85)} ${Y(-2.85)})`});}
  if(c===0){chanTicks.forEach(v=>{const t=txt(s,x0-7,Y(v)+4,fmt(v),11,'end');});}
  if(r===3){chanTicks.forEach(v=>{const t=txt(s,X(v),y0+PH+14,fmt(v),11,'middle');});}
 }
 const xt=txt(s,476,1014,'ΔRA  [arcsec]',29,'middle');
 
 
 const yt=txt(s,0,0,'ΔDec  [arcsec]',29,'middle',{transform:'translate(137,567) rotate(-90)'});
 
 
})();

/* ---------- FIGURE 4 ---------- */
function jet(t){t=Math.max(0,Math.min(1,t));const r=Math.min(1,Math.max(0,1.5-Math.abs(4*t-3))),g=Math.min(1,Math.max(0,1.5-Math.abs(4*t-2))),b=Math.min(1,Math.max(0,1.5-Math.abs(4*t-1)));return `rgb(${Math.round(r*255)},${Math.round(g*255)},${Math.round(b*255)})`;}
(function(){
 const s=document.getElementById('fig4');
 const L=501,R=746,T=530,B=773;
 const X=ra=>605+ra*35, Y=dec=>634-dec*35;
 mk(s,'rect',{x:L,y:T,width:R-L,height:B-T,fill:'#fff'});
 for(let i=0;i<velRowDec.length;i++){
  const r=mk(s,'rect',{x:X(velRowMin[i]),y:Y(velRowDec[i]+0.1),width:(velRowMax[i]-velRowMin[i])*35,height:0.2*35+0.5,fill:jet((velRowVel[i]-velMin)/(velMax-velMin))});
  
  
 }
 mk(s,'ellipse',{cx:X(-0.05),cy:Y(-1.1),rx:0.85*35,ry:0.2*35,fill:'none',stroke:'#000','stroke-width':1.3});
 mk(s,'ellipse',{cx:X(-0.1),cy:Y(-1.12),rx:0.4*35,ry:0.1*35,fill:'none',stroke:'#000','stroke-width':1.2});
 mk(s,'circle',{cx:X(-0.05),cy:Y(0.45),r:2.5,fill:'none',stroke:'#000','stroke-width':1.2});
 mk(s,'path',{d:`M${X(0)-8},${Y(0)} h16 M${X(0)},${Y(0)-8} v16`,stroke:'#000','stroke-width':1.3});
 mk(s,'ellipse',{cx:X(-2.55),cy:Y(-3.45),rx:12,ry:15,fill:'#000',transform:`rotate(-45 ${X(-2.55)} ${Y(-3.45)})`});
 mk(s,'rect',{x:L,y:T,width:R-L,height:B-T,fill:'none',stroke:'#777','stroke-width':1.3});
 f1XTicks.forEach(v=>{mk(s,'line',{x1:X(v),x2:X(v),y1:B,y2:B-4,stroke:'#333'});const t=txt(s,X(v),B+10,fmt(v),8.5,'middle');});
 f1YTicks.forEach(v=>{mk(s,'line',{x1:L,x2:L+4,y1:Y(v),y2:Y(v),stroke:'#333'});const t=txt(s,L-5,Y(v)+3,fmt(v),8.5,'end');});
 const xt=txt(s,611,802,'ΔRA  [arcsec]',12.5,'middle');
 
 
 const yt=txt(s,0,0,'ΔDeclination  [arcsec]',12.5,'middle',{transform:'translate(476,654) rotate(-90)'});
 
 
 const defs=mk(s,'defs',{});const lg=mk(defs,'linearGradient',{id:'jetcb',x1:0,y1:1,x2:0,y2:0});
 [0,0.125,0.375,0.625,0.875,1].forEach(o=>mk(lg,'stop',{offset:o,'stop-color':jet(o)}));
 const cb=mk(s,'rect',{x:760,y:T,width:18,height:B-T,fill:'url(#jetcb)',stroke:'#777','stroke-width':1.2});
 
 
 const cy=v=>B-(v-velMin)/(velMax-velMin)*(B-T);
 velCbarTicks.forEach(v=>{mk(s,'line',{x1:774,x2:778,y1:cy(v),y2:cy(v),stroke:'#333'});const t=txt(s,782,cy(v)+3,fmt(v),8.5);});
 const cl=txt(s,0,0,'km s⁻¹',10,'middle',{transform:'translate(814,641) rotate(-90)'});
 
 
})();

/* ---------- FIGURE 5 ---------- */
(function(){
 const s=document.getElementById('fig5');
 const L=136,R=821,T=161,B=570;
 const X=ra=>476+ra*694, Y=dec=>161-dec*680;
 const defs=mk(s,'defs',{});
 const cp=mk(defs,'clipPath',{id:'f5clip'});mk(cp,'rect',{x:L,y:T,width:R-L,height:B-T});
 const rg=mk(defs,'radialGradient',{id:'insetbg',cx:0.5,cy:0.55,r:0.7});
 mk(rg,'stop',{offset:0,'stop-color':'#3fc6ff'});mk(rg,'stop',{offset:0.35,'stop-color':'#1f8cff'});mk(rg,'stop',{offset:1,'stop-color':'#1037e8'});
 const gl=mk(defs,'filter',{id:'glow',x:'-30%',y:'-30%',width:'160%',height:'160%'});mk(gl,'feGaussianBlur',{stdDeviation:5});
 const g=mk(s,'g',{'clip-path':'url(#f5clip)'});
 const cc=mk(g,'circle',{cx:X(sizeCircleRA),cy:Y(sizeCircleDec),r:sizeCircleR*690,fill:'none',stroke:'#777','stroke-width':1,'stroke-dasharray':'7,5'});
 
 
 function poly(ra,dec,w,col){let d='';for(let i=0;i<ra.length;i++)d+=(i?'L':'M')+X(ra[i])+','+Y(dec[i]);return mk(g,'path',{d:d,fill:'none',stroke:col,'stroke-width':w,'stroke-linejoin':'round'});}
 const ca=poly(causticRA,causticDec,0.9,'#666');
 
 
 const m1=poly(mag10RA,mag10Dec,2,'#111');
 const m2=poly(mag20RA,mag20Dec,3,'#111');
 const m3=poly(mag50RA,mag50Dec,3.5,'#111');
 const m4=poly(magLoopRA,magLoopDec,4,'#111');
 for(let i=0;i<crossRA.length;i++){
  const cg=mk(g,'g',{});
  
  
  mk(cg,'line',{x1:X(crossRA[i]-crossErrRA[i]),x2:X(crossRA[i]+crossErrRA[i]),y1:Y(crossDec[i]),y2:Y(crossDec[i]),stroke:crossColors[i],'stroke-width':2.4});
  mk(cg,'line',{x1:X(crossRA[i]),x2:X(crossRA[i]),y1:Y(crossDec[i]+crossErrDec[i]),y2:Y(crossDec[i]-crossErrDec[i]),stroke:crossColors[i],'stroke-width':2.4});
 }
 const dm=mk(g,'path',{d:`M${X(-0.02)},${Y(-0.24)} l4,4 l-4,4 l-4,-4 z`,fill:'#e02020'});
 
 
 /* inset */
 const ins=mk(s,'g',{});
 
 
 mk(ins,'rect',{x:139,y:162,width:190,height:271,fill:'url(#insetbg)'});
 const shape='M187,319 Q224,300 214,255 L198,219 L188,196 L197,200 L212,208 L219,210 L216,216 Q226,272 285,311 Q242,318 236,377 Q232,328 187,319 Z';
 mk(ins,'path',{d:shape,fill:'#5fe8ff',stroke:'#5fe8ff','stroke-width':10,filter:'url(#glow)'});
 mk(ins,'ellipse',{cx:237,cy:395,rx:9,ry:35,fill:'#6ff0ff',filter:'url(#glow)'});
 mk(ins,'path',{d:shape,fill:'#c6ee3a',stroke:'#e8380e','stroke-width':2.2});
 mk(ins,'rect',{x:175,y:349,width:121,height:74,fill:'none',stroke:'#000','stroke-width':2});
 mk(ins,'rect',{x:139,y:162,width:190,height:271,fill:'none',stroke:'#222','stroke-width':1});
 mk(s,'rect',{x:L,y:T,width:R-L,height:B-T,fill:'none',stroke:'#888','stroke-width':2});
 f5XTicks.forEach(v=>{mk(s,'line',{x1:X(v),x2:X(v),y1:B,y2:B-7,stroke:'#888'});mk(s,'line',{x1:X(v),x2:X(v),y1:T,y2:T+7,stroke:'#888'});
  const t=txt(s,X(v),B+16,fmt(v.toFixed(1)).replace('−0.0','0.0'),13.5,'middle');});
 f5YTicks.forEach(v=>{mk(s,'line',{x1:R,x2:R-7,y1:Y(v),y2:Y(v),stroke:'#888'});
  const t=txt(s,L-8,Y(v)+5,fmt(v.toFixed(1)).replace('−0.0','0.0'),13.5,'end');});
 const xt=txt(s,478,612,'ΔRA  [arcsec]',25,'middle');
 
 
 const yt=txt(s,0,0,'ΔDeclination  [arcsec]',25,'middle',{transform:'translate(86,365) rotate(-90)'});
 
 
 const lgG=mk(s,'g',{});
 
 
 txt(lgG,753,207,'Magnification',12,'middle');
 legendMag.forEach((m,i)=>{const y=222+i*13.5;mk(lgG,'line',{x1:718,x2:759,y1:y,y2:y,stroke:i===0?'#888':'#111','stroke-width':legendWidth[i]});
  const t=txt(lgG,776,y+4,m,11,'middle');});
 const sb=mk(s,'line',{x1:738,x2:780,y1:515,y2:515,stroke:'#111','stroke-width':2});
 
 
 txt(s,759,532,'500 pc',8.5,'middle');
})();
</script>
</body></html>
